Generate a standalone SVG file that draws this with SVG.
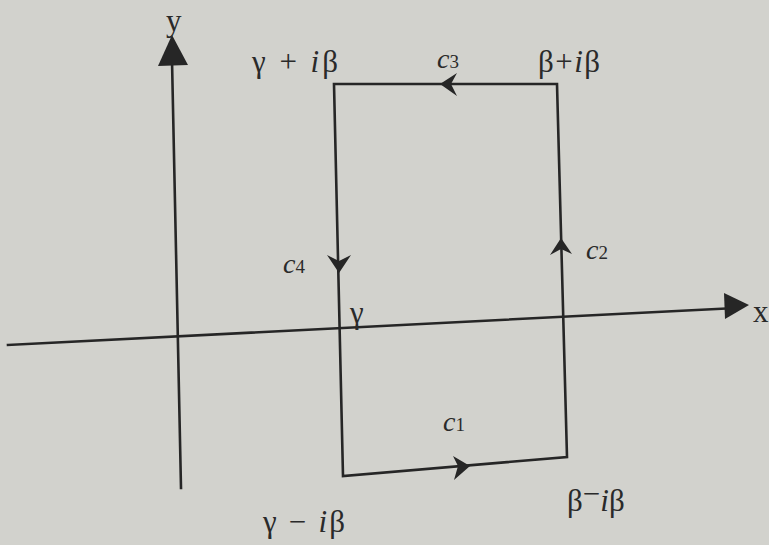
<svg xmlns="http://www.w3.org/2000/svg" width="769" height="545" viewBox="0 0 769 545">
<style>
.ln{stroke:#262626;stroke-width:2.6;fill:none;stroke-linecap:square}
.ah{fill:#262626}
text{font-family:"Liberation Serif","Times New Roman",serif;fill:#2a2a2a}
.lb{font-size:31px}
.c{font-size:28px;font-style:italic}
.sub{font-size:19px;font-style:normal}
</style>
<rect width="769" height="545" fill="#d2d2cd"/>
<g id="connectors">
<line class="ln" x1="8" y1="345" x2="735" y2="308"/>
<polygon class="ah" points="749,305 724,293 725,319"/>
<line class="ln" x1="181" y1="488" x2="172" y2="60"/>
<polygon class="ah" points="172,35 158,66 188,65"/>
<polyline class="ln" points="334,84 557,84 567,457 343,476 334,84"/>
<polygon class="ah" points="440,84 457,73 451,84 457,96"/>
<polygon class="ah" points="339,273 327,255 339,261 351,255"/>
<polygon class="ah" points="561,238 550,255 561,249 572,254"/>
<polygon class="ah" points="470,466 453,456 458,466 454,480"/>
</g>
<g id="axis-y"><text class="lb" x="166" y="31">y</text></g>
<g id="axis-x"><text class="lb" x="753" y="322">x</text></g>
<g id="corner-tl"><text class="lb" x="252" y="72" textLength="86" lengthAdjust="spacing">γ + <tspan font-style="italic">i</tspan>β</text></g>
<g id="corner-tr"><text class="lb" x="538" y="72" textLength="62" lengthAdjust="spacing">β+<tspan font-style="italic">i</tspan>β</text></g>
<g id="corner-bl"><text class="lb" x="263" y="532" textLength="82" lengthAdjust="spacing">γ − <tspan font-style="italic">i</tspan>β</text></g>
<g id="corner-br"><text class="lb" x="567" y="511">β<tspan dy="-7">−</tspan><tspan dy="7" font-style="italic">i</tspan>β</text></g>
<g id="gamma"><text class="lb" x="350" y="323">γ</text></g>
<g id="c1"><text class="c" x="443" y="431">c<tspan class="sub">1</tspan></text></g>
<g id="c2"><text class="c" x="586" y="259">c<tspan class="sub">2</tspan></text></g>
<g id="c3"><text class="c" x="437" y="68">c<tspan class="sub">3</tspan></text></g>
<g id="c4"><text class="c" x="283" y="273">c<tspan class="sub">4</tspan></text></g>
</svg>
